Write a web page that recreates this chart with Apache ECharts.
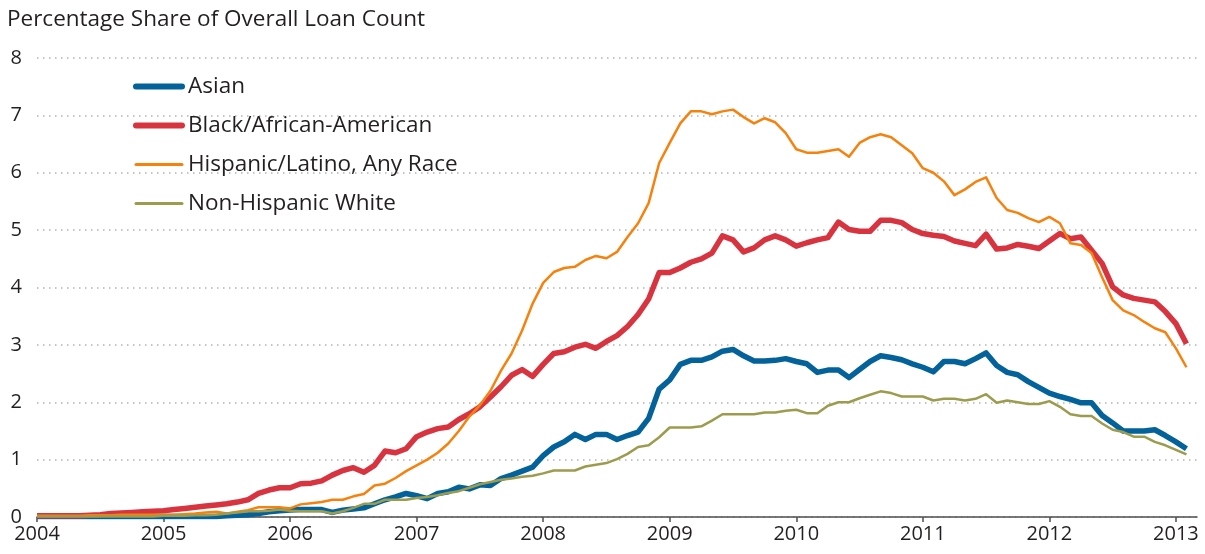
<!DOCTYPE html>
<html>
<head>
<meta charset="utf-8">
<script src="https://cdn.jsdelivr.net/npm/echarts@6/dist/echarts.min.js"></script>
<style>
  html, body { margin: 0; padding: 0; background: #fff; }
  #chart { width: 1205px; height: 554px; }
</style>
</head>
<body>
<div id="chart"></div>
<script>
// monthly shares, Jan 2004 .. Feb 2013 (percent of overall loan count)
const asian = [
    0.01, 0.01, 0.01, 0.01, 0.01, 0.01, 0.01, 0.01, 0.01, 0.01, 0.01, 0.01,
    0.01, 0.01, 0.01, 0.01, 0.01, 0.01, 0.02, 0.03, 0.04, 0.06, 0.09, 0.11,
    0.12, 0.13, 0.13, 0.13, 0.08, 0.12, 0.14, 0.16, 0.23, 0.30, 0.35, 0.41,
    0.37, 0.32, 0.41, 0.44, 0.52, 0.49, 0.56, 0.55, 0.67, 0.73, 0.80, 0.87,
    1.07, 1.22, 1.31, 1.44, 1.35, 1.44, 1.44, 1.35, 1.42, 1.48, 1.72, 2.23,
    2.39, 2.66, 2.73, 2.73, 2.79, 2.89, 2.92, 2.81, 2.72, 2.72, 2.73, 2.76,
    2.71, 2.67, 2.52, 2.56, 2.56, 2.43, 2.57, 2.71, 2.81, 2.78, 2.74, 2.67,
    2.61, 2.53, 2.71, 2.71, 2.67, 2.76, 2.86, 2.64, 2.52, 2.48, 2.36, 2.26,
    2.16, 2.10, 2.05, 1.99, 1.99, 1.77, 1.64, 1.50, 1.50, 1.50, 1.52, 1.42,
    1.31, 1.19
];
const black = [
    0.02, 0.02, 0.02, 0.02, 0.02, 0.03, 0.04, 0.06, 0.07, 0.08, 0.09, 0.10,
    0.11, 0.13, 0.15, 0.17, 0.19, 0.21, 0.23, 0.26, 0.30, 0.41, 0.47, 0.51,
    0.51, 0.58, 0.59, 0.63, 0.73, 0.81, 0.86, 0.78, 0.90, 1.15, 1.12, 1.19,
    1.40, 1.48, 1.54, 1.57, 1.70, 1.80, 1.92, 2.09, 2.27, 2.47, 2.57, 2.45,
    2.66, 2.85, 2.88, 2.96, 3.01, 2.94, 3.06, 3.16, 3.32, 3.53, 3.80, 4.26,
    4.26, 4.34, 4.44, 4.50, 4.60, 4.90, 4.83, 4.62, 4.69, 4.83, 4.90, 4.83,
    4.72, 4.78, 4.83, 4.87, 5.14, 5.01, 4.98, 4.98, 5.17, 5.17, 5.13, 5.01,
    4.94, 4.91, 4.89, 4.81, 4.77, 4.73, 4.93, 4.67, 4.69, 4.75, 4.72, 4.68,
    4.81, 4.94, 4.85, 4.88, 4.65, 4.42, 4.01, 3.87, 3.81, 3.78, 3.75, 3.58,
    3.37, 3.02
];
const hispanic = [
    0.02, 0.02, 0.02, 0.02, 0.02, 0.03, 0.03, 0.03, 0.04, 0.04, 0.04, 0.04,
    0.04, 0.04, 0.05, 0.06, 0.08, 0.09, 0.06, 0.09, 0.12, 0.17, 0.17, 0.17,
    0.15, 0.22, 0.24, 0.26, 0.30, 0.30, 0.36, 0.40, 0.55, 0.58, 0.68, 0.80,
    0.90, 1.00, 1.12, 1.28, 1.50, 1.75, 1.95, 2.20, 2.55, 2.85, 3.25, 3.72,
    4.08, 4.27, 4.34, 4.36, 4.48, 4.55, 4.51, 4.62, 4.88, 5.12, 5.47, 6.17,
    6.52, 6.86, 7.07, 7.07, 7.02, 7.07, 7.10, 6.97, 6.86, 6.95, 6.88, 6.69,
    6.41, 6.35, 6.35, 6.38, 6.41, 6.28, 6.52, 6.62, 6.67, 6.62, 6.48, 6.34,
    6.08, 6.00, 5.85, 5.61, 5.71, 5.84, 5.92, 5.56, 5.35, 5.30, 5.21, 5.14,
    5.23, 5.12, 4.77, 4.74, 4.60, 4.18, 3.78, 3.60, 3.52, 3.40, 3.29, 3.22,
    2.94, 2.61
];
const white = [
    0.01, 0.01, 0.01, 0.01, 0.01, 0.01, 0.01, 0.01, 0.01, 0.01, 0.01, 0.01,
    0.02, 0.02, 0.02, 0.03, 0.03, 0.04, 0.06, 0.08, 0.10, 0.10, 0.11, 0.13,
    0.11, 0.10, 0.10, 0.10, 0.06, 0.10, 0.16, 0.23, 0.23, 0.30, 0.30, 0.30,
    0.33, 0.35, 0.38, 0.42, 0.45, 0.51, 0.57, 0.61, 0.65, 0.67, 0.70, 0.72,
    0.76, 0.81, 0.81, 0.81, 0.88, 0.91, 0.94, 1.01, 1.10, 1.22, 1.25, 1.39,
    1.56, 1.56, 1.56, 1.58, 1.68, 1.79, 1.79, 1.79, 1.79, 1.82, 1.82, 1.85,
    1.87, 1.81, 1.81, 1.94, 2.00, 2.00, 2.07, 2.13, 2.19, 2.16, 2.10, 2.10,
    2.10, 2.03, 2.06, 2.06, 2.03, 2.06, 2.14, 1.99, 2.03, 2.00, 1.97, 1.97,
    2.02, 1.92, 1.79, 1.76, 1.76, 1.63, 1.52, 1.48, 1.40, 1.40, 1.31, 1.25,
    1.17, 1.09
];

const seriesNames = ['Asian', 'Black/African-American', 'Hispanic/Latino, Any Race', 'Non-Hispanic White'];
const seriesColors = ['#04629b', '#d8343f', '#f6820d', '#9c9c4e'];
const seriesWidths = [5.5, 5.5, 2.5, 2.5];
const yTicks = [0, 1, 2, 3, 4, 5, 6, 7, 8];

// month categories Jan 2004 .. Mar 2013 (axis runs a little past the last point)
const months = [];
for (let y = 2004; y <= 2013; y++) {
    for (let m = 1; m <= 12; m++) {
        if (y === 2013 && m > 3) break;
        months.push(y + '-' + String(m).padStart(2, '0'));
    }
}

const textColor = '#231f20';
const fontFamily = '"Open Sans", "Noto Sans", sans-serif';

const chart = echarts.init(document.getElementById('chart'));

const isJanuary = (idx) => idx % 12 === 0;

chart.setOption({
    animation: false,
    backgroundColor: '#fff',
    textStyle: { fontFamily: fontFamily },
    title: {
        text: 'Percentage Share of Overall Loan Count',
        left: 2,
        top: 3,
        textStyle: { fontSize: 22.5, fontWeight: 'normal', color: textColor, fontFamily: fontFamily }
    },
    legend: {
        orient: 'vertical',
        left: 128,
        top: 70,
        itemWidth: 46,
        itemHeight: 20,
        itemGap: 16,
        // legend swatches keep each series' own line width
        data: seriesNames.map((name, k) => ({
            name: name,
            lineStyle: { width: seriesWidths[k] + 0.5, color: seriesColors[k], cap: 'round' }
        })),
        textStyle: { fontSize: 22.5, color: textColor, lineHeight: 20, fontFamily: fontFamily, padding: [0, 0, 0, 1] },
        itemStyle: { color: 'transparent', borderColor: 'transparent', borderWidth: 0 },
        lineStyle: { width: 'inherit', cap: 'round' }
    },
    grid: { left: 37, right: 8, top: 58, bottom: 37 },
    xAxis: {
        type: 'category',
        data: months,
        boundaryGap: false,
        axisLine: { lineStyle: { color: '#4d4d4d', width: 1.5 } },
        axisTick: { interval: (idx) => isJanuary(idx), length: 5, inside: false, lineStyle: { color: '#4d4d4d', width: 1.5 } },
        axisLabel: {
            interval: (idx) => isJanuary(idx),
            formatter: (v) => v.slice(0, 4),
            fontSize: 20,
            color: textColor,
            margin: 7,
            fontFamily: fontFamily
        },
        splitLine: { show: false }
    },
    yAxis: {
        type: 'value',
        min: yTicks[0],
        max: yTicks[yTicks.length - 1],
        interval: 1,
        axisLine: { show: false },
        axisTick: { show: false },
        axisLabel: { fontSize: 20, color: textColor, margin: 15, fontFamily: fontFamily },
        splitLine: { lineStyle: { color: '#b3b3b3', width: 1.5, type: [1.5, 4.5] } }
    },
    series: seriesNames.map((name, k) => ({
        name: name,
        type: 'line',
        data: [asian, black, hispanic, white][k],
        symbol: 'none',
        color: seriesColors[k],
        lineStyle: { width: seriesWidths[k], color: seriesColors[k], join: 'round' },
        z: 2 + k
    }))
});

window.addEventListener('resize', () => chart.resize());
</script>
</body>
</html>
